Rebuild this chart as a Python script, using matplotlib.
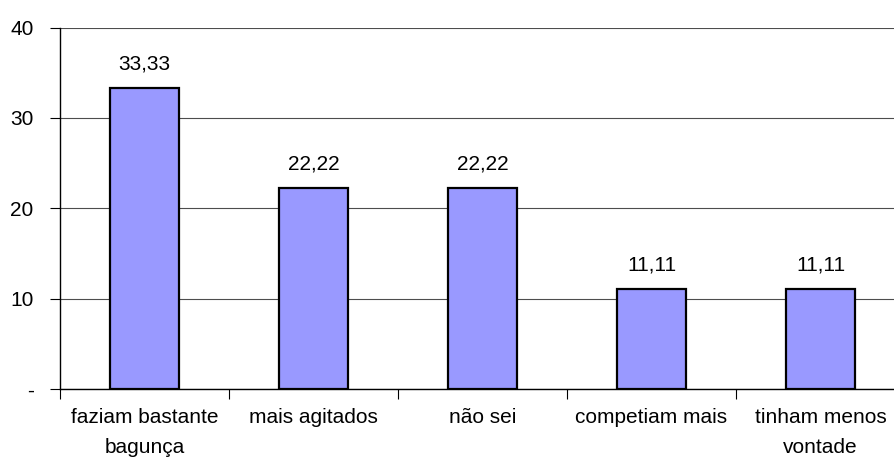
import matplotlib
matplotlib.use("Agg")
import matplotlib.pyplot as plt
import numpy as np

categorias = ["faziam bastante\nbagunça", "mais agitados", "não sei",
              "competiam mais", "tinham menos\nvontade"]
valores = [33.33, 22.22, 22.22, 11.11, 11.11]
yticks = [0, 10, 20, 30, 40]
ytick_labels = ["-", "10", "20", "30", "40"]

plt.rcParams["font.family"] = ["Liberation Sans", "DejaVu Sans"]
plt.rcParams["font.size"] = 15

fig = plt.figure(figsize=(8.94, 4.57), dpi=100)
ax = fig.add_axes([60 / 894, (457 - 389) / 457, 845 / 894, (389 - 27.5) / 457])

x = np.arange(len(valores))
bars = ax.bar(x, valores, width=0.41, color="#9999FF", edgecolor="black",
              linewidth=1.6, zorder=3)
for b, v in zip(bars, valores):
    ax.text(b.get_x() + b.get_width() / 2, v + 1.6, f"{v:.2f}".replace(".", ","),
            ha="center", va="bottom", fontsize=15)

ax.set_xlim(-0.5, len(valores) - 0.5)
ax.set_ylim(0, 40)
ax.set_yticks(yticks)
ax.set_yticklabels(ytick_labels)
ax.yaxis.grid(True, color="#4d4d4d", linewidth=0.8, zorder=0)
ax.set_axisbelow(True)

# category ticks sit between the bars, labels centred under each bar
ax.set_xticks(np.arange(len(valores) + 1) - 0.5)
ax.set_xticklabels([])
ax.set_xticks(x, minor=True)
ax.set_xticklabels(categorias, minor=True, linespacing=1.7)
ax.tick_params(axis="x", which="minor", length=0, pad=14)
ax.tick_params(axis="x", which="major", length=7, width=0.8, direction="out")
ax.tick_params(axis="y", length=7, width=0.8, pad=12)

for s in ["top", "right"]:
    ax.spines[s].set_visible(False)
ax.spines["left"].set_linewidth(1)
ax.spines["bottom"].set_linewidth(1)

fig.savefig("out.png", dpi=100)
